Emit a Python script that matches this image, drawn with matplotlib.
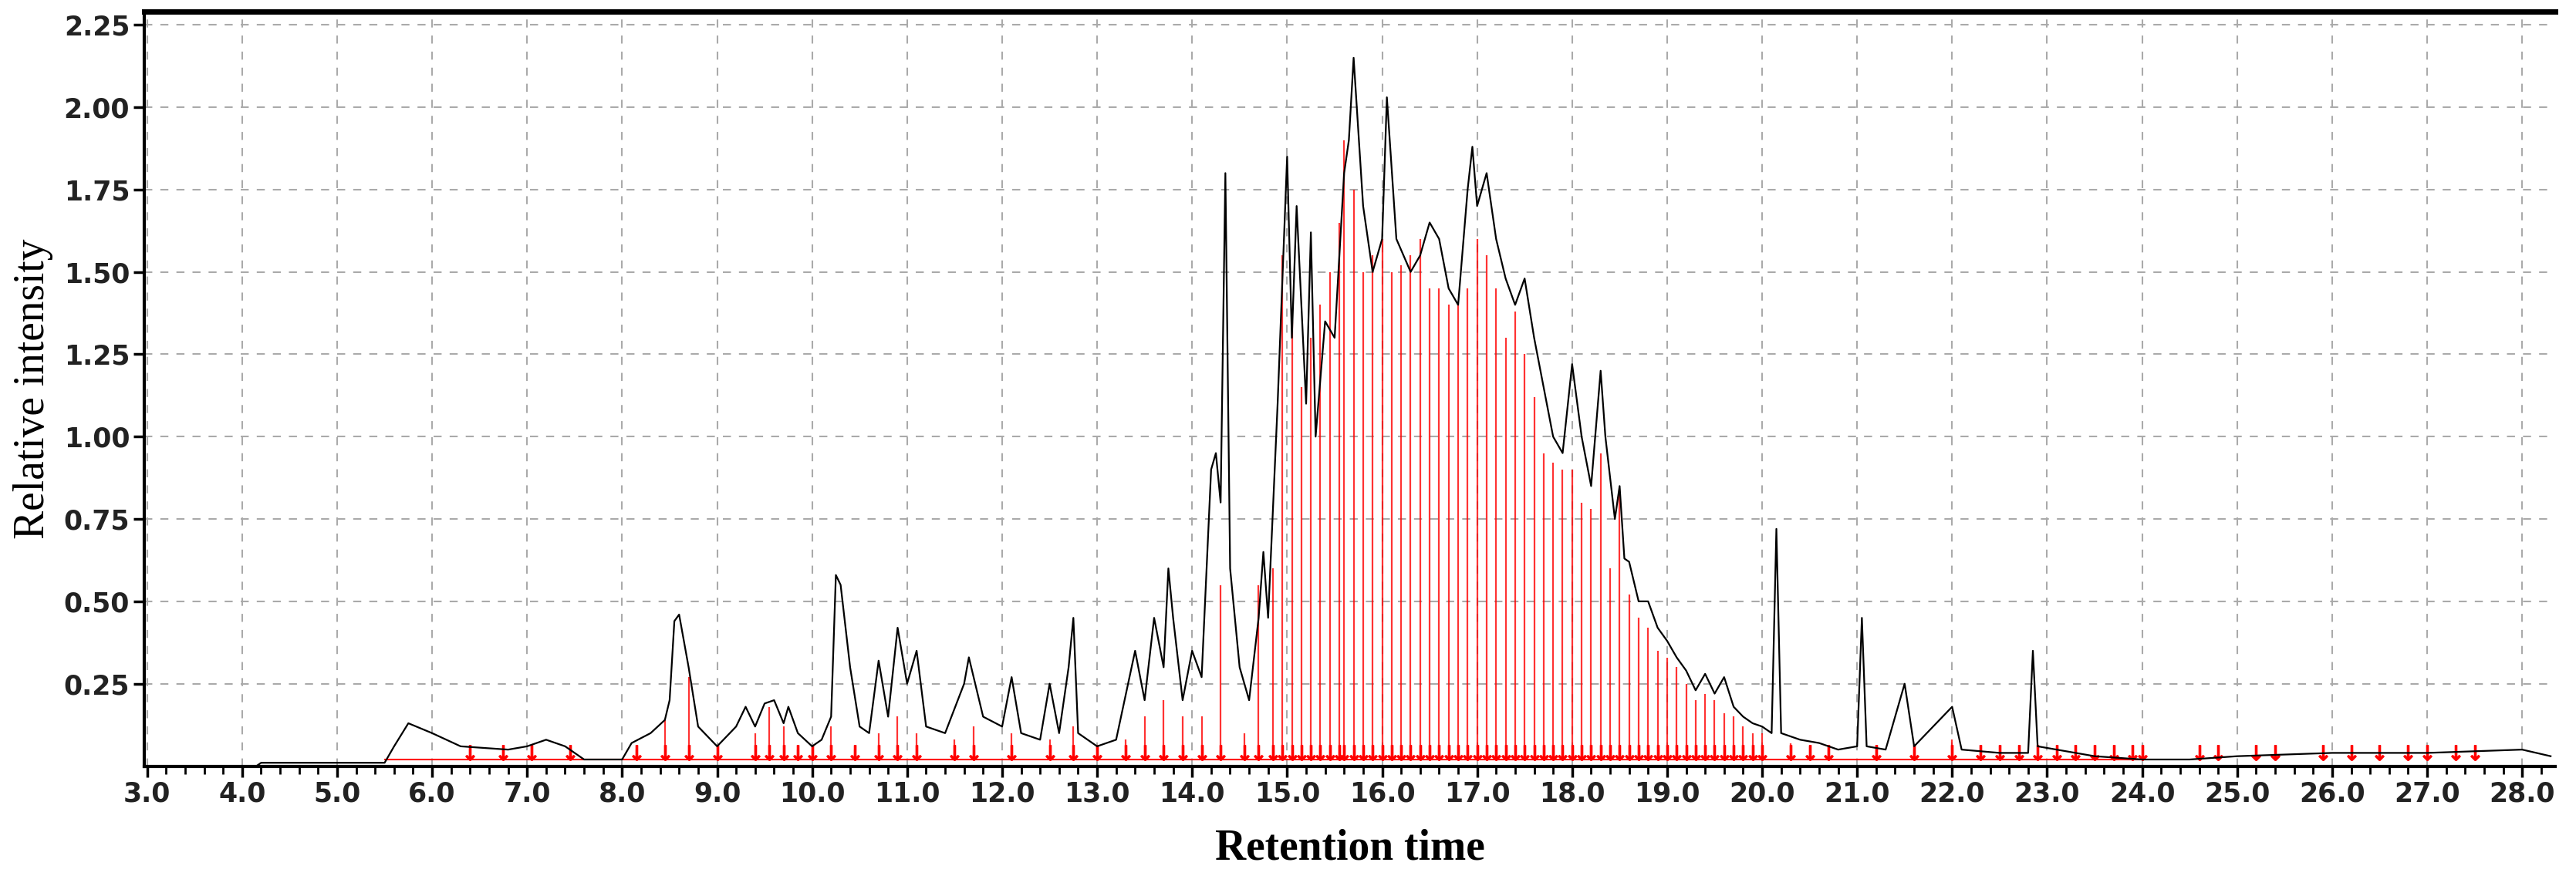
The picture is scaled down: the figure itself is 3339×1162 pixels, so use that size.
import matplotlib
matplotlib.use("Agg")
import matplotlib.pyplot as plt
import numpy as np

trace_t = [3.0,4.15,4.2,5.5,5.6,5.75,6.0,6.3,6.8,7.0,7.2,7.4,7.6,8.0,8.1,8.3,8.45,8.5,8.55,8.6,8.7,8.8,9.0,9.2,9.3,9.4,9.5,9.6,9.7,9.75,9.85,10.0,10.1,10.2,10.25,10.3,10.4,10.5,10.6,10.7,10.8,10.9,11.0,11.1,11.2,11.4,11.6,11.65,11.8,12.0,12.1,12.2,12.4,12.5,12.6,12.7,12.75,12.8,13.0,13.2,13.4,13.5,13.6,13.7,13.75,13.8,13.9,14.0,14.1,14.2,14.25,14.3,14.35,14.4,14.5,14.6,14.7,14.75,14.8,14.9,15.0,15.05,15.1,15.2,15.25,15.3,15.4,15.5,15.6,15.65,15.7,15.8,15.9,16.0,16.05,16.15,16.3,16.4,16.5,16.6,16.7,16.8,16.9,16.95,17.0,17.1,17.2,17.3,17.4,17.5,17.6,17.7,17.8,17.9,18.0,18.1,18.2,18.3,18.35,18.45,18.5,18.55,18.6,18.7,18.8,18.9,19.0,19.1,19.2,19.3,19.4,19.5,19.6,19.7,19.8,19.9,20.0,20.1,20.15,20.2,20.4,20.6,20.8,21.0,21.05,21.1,21.3,21.5,21.6,21.8,22.0,22.1,22.5,22.8,22.85,22.9,23.5,24.0,24.5,25.0,26.0,27.0,28.0,28.3]
trace_y = [0.0,0.0,0.01,0.01,0.06,0.13,0.1,0.06,0.05,0.06,0.08,0.06,0.02,0.02,0.07,0.1,0.14,0.2,0.44,0.46,0.3,0.12,0.06,0.12,0.18,0.12,0.19,0.2,0.13,0.18,0.1,0.06,0.08,0.15,0.58,0.55,0.3,0.12,0.1,0.32,0.15,0.42,0.25,0.35,0.12,0.1,0.25,0.33,0.15,0.12,0.27,0.1,0.08,0.25,0.1,0.3,0.45,0.1,0.06,0.08,0.35,0.2,0.45,0.3,0.6,0.45,0.2,0.35,0.27,0.9,0.95,0.8,1.8,0.6,0.3,0.2,0.45,0.65,0.45,1.1,1.85,1.3,1.7,1.1,1.62,1.0,1.35,1.3,1.8,1.9,2.15,1.7,1.5,1.6,2.03,1.6,1.5,1.55,1.65,1.6,1.45,1.4,1.75,1.88,1.7,1.8,1.6,1.48,1.4,1.48,1.3,1.15,1.0,0.95,1.22,1.0,0.85,1.2,1.0,0.75,0.85,0.63,0.62,0.5,0.5,0.42,0.38,0.33,0.29,0.23,0.28,0.22,0.27,0.18,0.15,0.13,0.12,0.1,0.72,0.1,0.08,0.07,0.05,0.06,0.45,0.06,0.05,0.25,0.06,0.12,0.18,0.05,0.04,0.04,0.35,0.06,0.03,0.02,0.02,0.03,0.04,0.04,0.05,0.03]

stem_t = [6.4,6.75,7.05,7.45,8.15,8.45,8.7,9.0,9.4,9.55,9.7,9.85,10.0,10.2,10.45,10.7,10.9,11.1,11.5,11.7,12.1,12.5,12.75,13.0,13.3,13.5,13.7,13.9,14.1,14.3,14.55,14.7,14.85,14.95,15.05,15.15,15.25,15.35,15.45,15.55,15.6,15.7,15.8,15.9,16.0,16.1,16.2,16.3,16.4,16.5,16.6,16.7,16.8,16.9,17.0,17.1,17.2,17.3,17.4,17.5,17.6,17.7,17.8,17.9,18.0,18.1,18.2,18.3,18.4,18.5,18.6,18.7,18.8,18.9,19.0,19.1,19.2,19.3,19.4,19.5,19.6,19.7,19.8,19.9,20.0,20.3,20.5,20.7,21.2,21.6,22.0]
stem_y = [0.05,0.05,0.06,0.05,0.05,0.14,0.27,0.04,0.1,0.18,0.12,0.05,0.05,0.12,0.05,0.1,0.15,0.1,0.08,0.12,0.1,0.08,0.12,0.06,0.08,0.15,0.2,0.15,0.15,0.55,0.1,0.55,0.6,1.55,1.35,1.15,1.3,1.4,1.5,1.65,1.9,1.75,1.5,1.55,1.6,1.5,1.52,1.55,1.6,1.45,1.45,1.4,1.4,1.45,1.6,1.55,1.45,1.3,1.38,1.25,1.12,0.95,0.92,0.9,0.9,0.8,0.78,0.95,0.6,0.84,0.52,0.45,0.42,0.35,0.33,0.3,0.25,0.2,0.22,0.2,0.16,0.15,0.12,0.1,0.1,0.07,0.06,0.05,0.05,0.05,0.08]
extra_marks = [22.3,22.5,22.7,22.9,23.1,23.3,23.5,23.7,23.9,24.0,24.6,24.8,25.2,25.4,25.9,26.2,26.5,26.8,27.0,27.3,27.5]

fig = plt.figure(figsize=(33.39, 11.62), dpi=100)
ax = fig.add_axes([0.056, 0.145, 0.936, 0.842])
ax.set_xlim(2.97, 28.35)
ax.set_ylim(0.0, 2.29)

ax.vlines(stem_t, 0.02, stem_y, color='red', lw=1.6, alpha=0.8)
ax.plot([5.5, 24.0], [0.02, 0.02], color='red', lw=1.5)
ax.plot(stem_t + extra_marks, [0.04] * (len(stem_t) + len(extra_marks)),
        linestyle='none', marker='$\\downarrow$', color='red', markersize=14)
ax.plot(trace_t, trace_y, color='black', lw=1.6)

ax.set_xticks(np.arange(3.0, 28.01, 1.0))
ax.set_xticklabels([f"{v:.1f}" for v in np.arange(3.0, 28.01, 1.0)])
ax.set_xticks(np.arange(3.0, 28.3, 0.2), minor=True)
ax.set_yticks([0.25, 0.5, 0.75, 1.0, 1.25, 1.5, 1.75, 2.0, 2.25])
ax.set_yticklabels(["0.25", "0.50", "0.75", "1.00", "1.25", "1.50", "1.75", "2.00", "2.25"])
ax.tick_params(axis='both', labelsize=25, width=2.5, length=10)
ax.tick_params(axis='x', which='minor', length=7, width=2)
for lab in ax.get_xticklabels() + ax.get_yticklabels():
    lab.set_fontweight('bold')
    lab.set_color('#222222')
ax.grid(True, color='#aaaaaa', linestyle=(0, (5, 5)), lw=1.5)
for s in ['left', 'bottom', 'top']:
    ax.spines[s].set_linewidth(3)
ax.spines['top'].set_linewidth(5)
ax.spines['right'].set_visible(False)

ax.set_xlabel("Retention time", fontsize=40, fontweight='bold', family='Liberation Serif', labelpad=20)
ax.set_ylabel("Relative intensity", fontsize=40, family='Liberation Serif', labelpad=10)
fig.savefig("out.png", dpi=100, facecolor='white')
